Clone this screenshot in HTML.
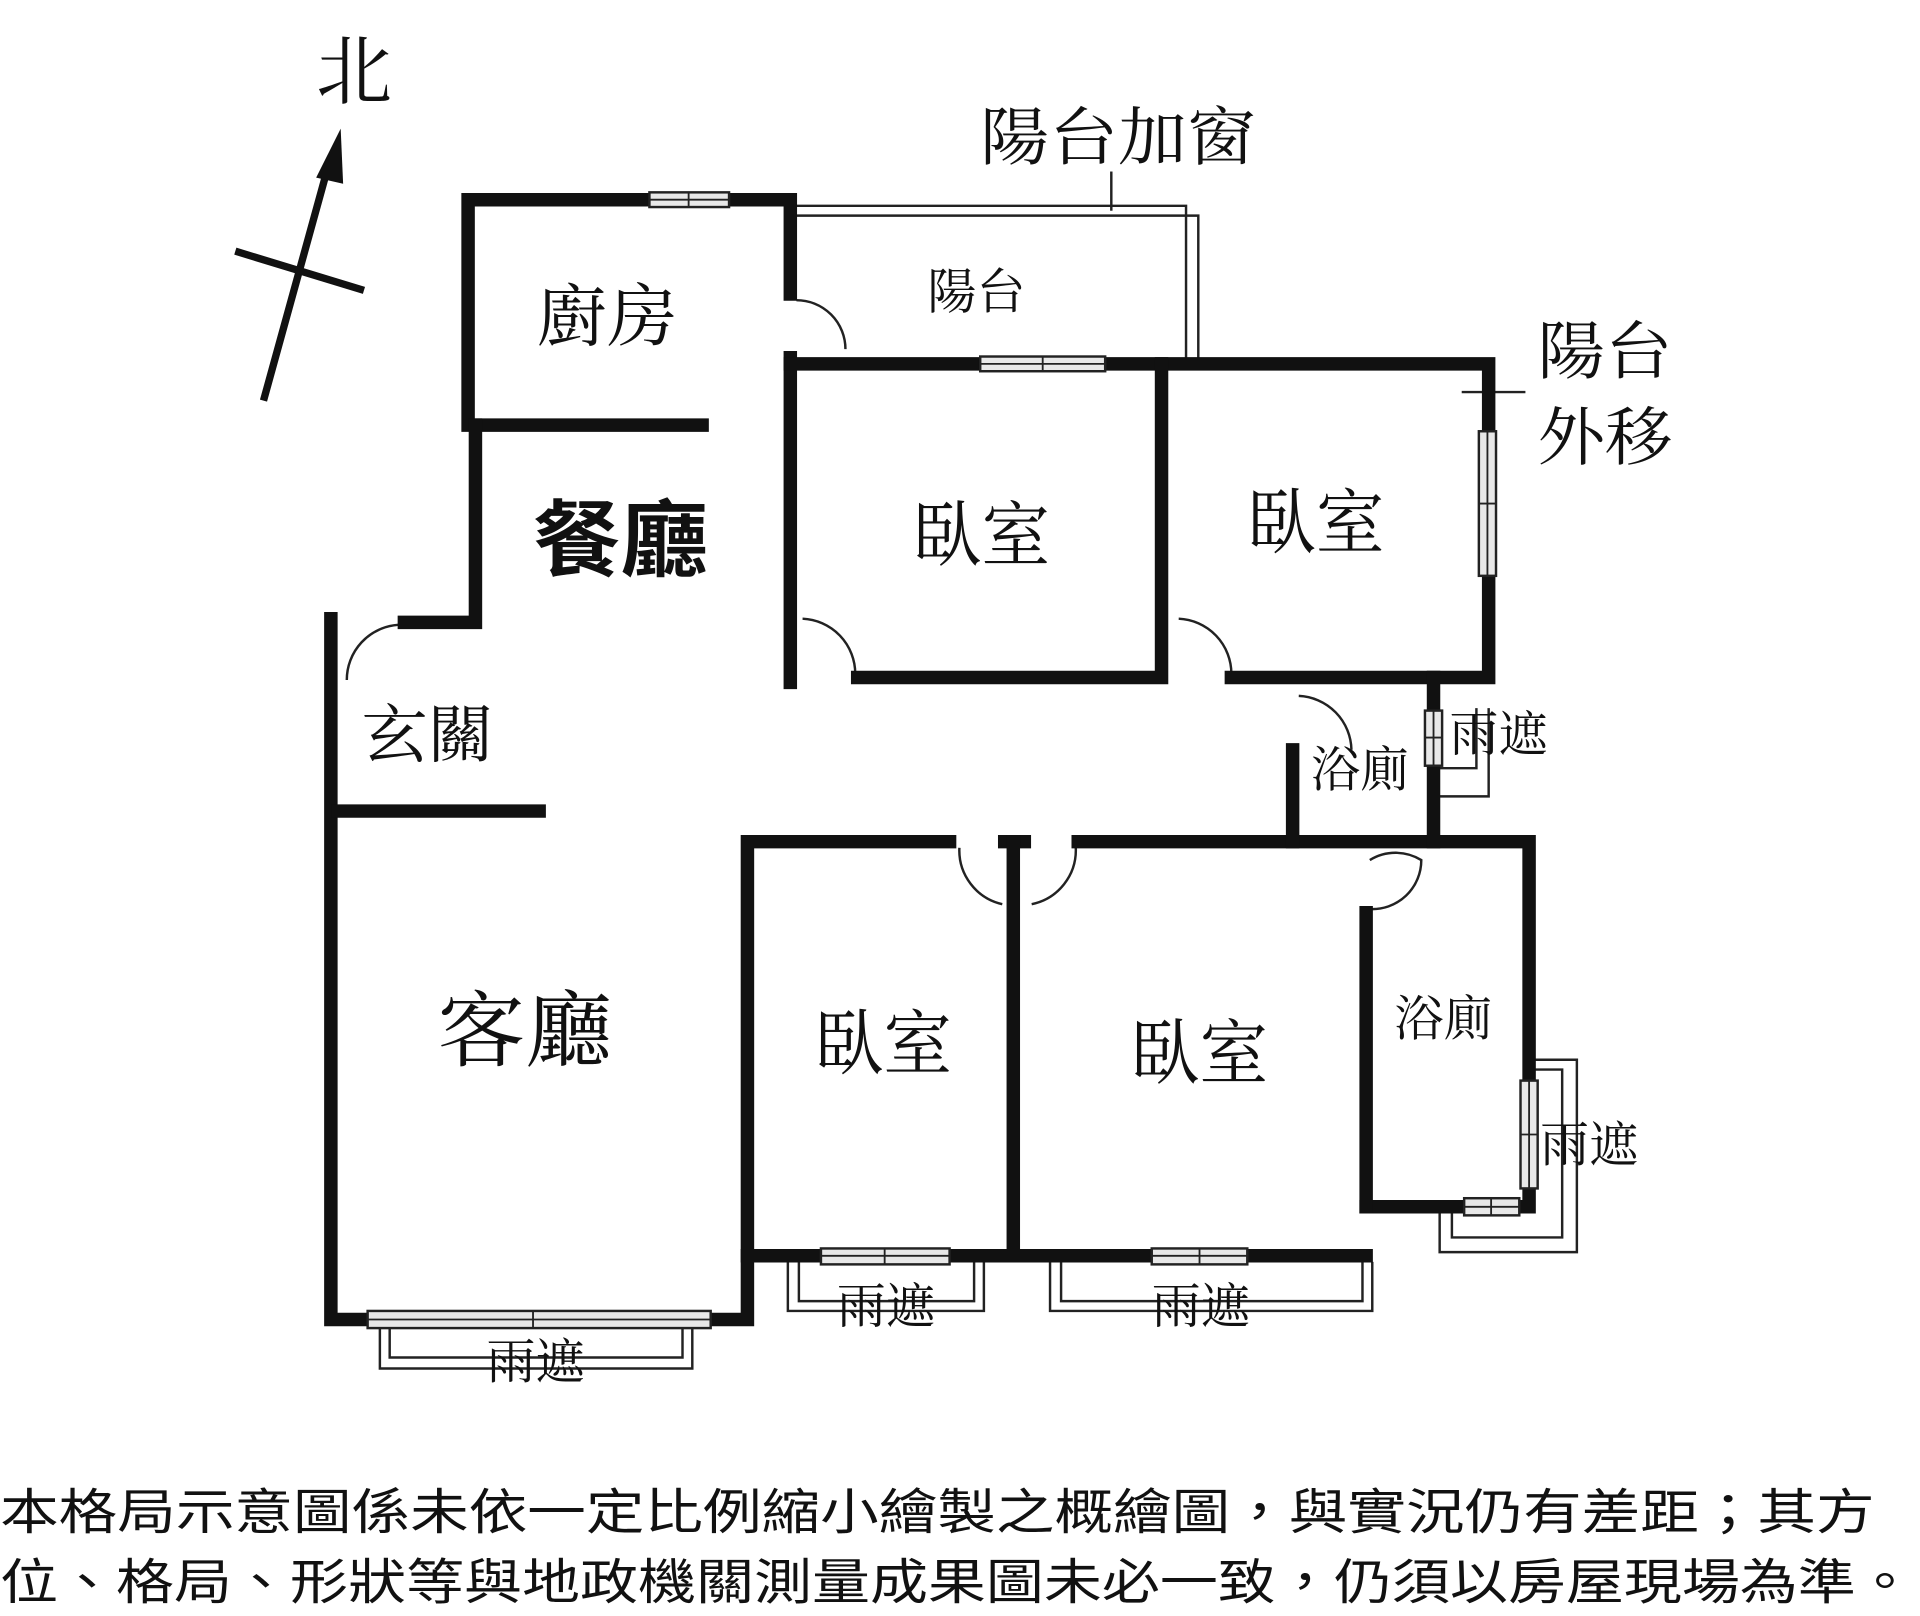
<!DOCTYPE html>
<html><head><meta charset="utf-8"><style>
html,body{margin:0;padding:0;background:#fff;}
svg{display:block}
text{font-family:"Liberation Sans","Noto Sans CJK TC",sans-serif;fill:#111}
.m{font-family:"Liberation Serif","Noto Serif CJK SC",serif}
</style></head><body>
<svg width="1920" height="1616" viewBox="0 0 1567 1319" xmlns="http://www.w3.org/2000/svg">
<rect width="1567" height="1319" fill="#fff"/>
<line x1="215" y1="327" x2="268" y2="135" stroke="#111" stroke-width="6"/>
<polygon points="278,105 258,145 280,150" fill="#111"/>
<line x1="192" y1="205" x2="297" y2="237" stroke="#111" stroke-width="6"/>
<text class="m" x="258" y="80" font-size="62">北</text>

<g fill="none" stroke="#222" stroke-width="2">
<polyline points="645,168 968,168 968,297"/>
<polyline points="645,176 978,176 978,297"/>
<line x1="907" y1="140" x2="907" y2="172"/>
<line x1="1193" y1="320" x2="1245" y2="320"/>
<polyline points="1168,627 1205,627 1205,578"/>
<polyline points="1175,650 1215,650 1215,578"/>
<polyline points="1250,873 1275,873 1275,1010 1185,1010 1185,985"/>
<polyline points="1250,865 1287,865 1287,1022 1175,1022 1175,985"/>
<polyline points="310,1080 310,1117 565,1117 565,1080"/>
<polyline points="318,1080 318,1108 557,1108 557,1080"/>
<polyline points="643,1030 643,1070 803,1070 803,1030"/>
<polyline points="652,1030 652,1062 795,1062 795,1030"/>
<polyline points="857,1030 857,1070 1120,1070 1120,1030"/>
<polyline points="866,1030 866,1062 1112,1062 1112,1030"/>
<path d="M650,245 A40,40 0 0 1 690,285"/>
<path d="M283,555 A45,45 0 0 1 325,510"/>
<path d="M655,505 A45,45 0 0 1 698,550"/>
<path d="M962,505 A45,45 0 0 1 1005,550"/>
<path d="M1060,568 A45,45 0 0 1 1103,612"/>
<path d="M783,692 A45,45 0 0 0 818,738"/>
<path d="M878,692 A45,45 0 0 1 842,738"/>
<path d="M1118,702 A40,40 0 0 1 1160,702 A40,40 0 0 1 1118,742"/>
</g>

<g fill="none" stroke="#111" stroke-width="11" stroke-linecap="square">
<polyline points="645,240 645,163 382,163 382,347 573,347"/>
<polyline points="645,292 645,557"/>
<polyline points="645,297 1215,297 1215,553 1005,553"/>
<polyline points="948,297 948,553 700,553"/>
<polyline points="388,347 388,508 330,508"/>
<polyline points="270,505 270,1077 610,1077 610,687 775,687"/>
<line x1="276" y1="662" x2="440" y2="662"/>
<line x1="820" y1="687" x2="836" y2="687"/>
<polyline points="880,687 1248,687 1248,985 1115,985"/>
<line x1="1115" y1="745" x2="1115" y2="985"/>
<line x1="827" y1="687" x2="827" y2="1025"/>
<line x1="610" y1="1025" x2="1115" y2="1025"/>
<line x1="1055" y1="612" x2="1055" y2="687"/>
<line x1="1170" y1="553" x2="1170" y2="687"/>
</g>

<g fill="#e8e8e8" stroke="#222" stroke-width="2">
<rect x="530" y="157" width="65" height="12"/>
<rect x="800" y="291" width="102" height="12"/>
<rect x="1207" y="352" width="14" height="118"/>
<rect x="1163" y="580" width="14" height="45"/>
<rect x="1241" y="882" width="14" height="88"/>
<rect x="1195" y="978" width="45" height="14"/>
<rect x="300" y="1070" width="280" height="14"/>
<rect x="670" y="1019" width="105" height="13"/>
<rect x="940" y="1019" width="78" height="13"/>
</g>
<g stroke="#222" stroke-width="1.5">
<line x1="530" y1="163" x2="595" y2="163"/><line x1="562" y1="157" x2="562" y2="169"/>
<line x1="800" y1="297" x2="902" y2="297"/><line x1="851" y1="291" x2="851" y2="303"/>
<line x1="1214" y1="352" x2="1214" y2="470"/><line x1="1207" y1="411" x2="1221" y2="411"/>
<line x1="1170" y1="580" x2="1170" y2="625"/><line x1="1163" y1="602" x2="1177" y2="602"/>
<line x1="1248" y1="882" x2="1248" y2="970"/><line x1="1241" y1="926" x2="1255" y2="926"/>
<line x1="1195" y1="985" x2="1240" y2="985"/><line x1="1217" y1="978" x2="1217" y2="992"/>
<line x1="300" y1="1077" x2="580" y2="1077"/><line x1="435" y1="1070" x2="435" y2="1084"/>
<line x1="670" y1="1025" x2="775" y2="1025"/><line x1="722" y1="1019" x2="722" y2="1032"/>
<line x1="940" y1="1025" x2="1018" y2="1025"/><line x1="979" y1="1019" x2="979" y2="1032"/>
</g>

<g class="m">
<text class="m" x="800" y="130" font-size="52" textLength="225" lengthAdjust="spacingAndGlyphs">陽台加窗</text>
<text class="m" x="1255" y="305" font-size="52" textLength="110" lengthAdjust="spacingAndGlyphs">陽台</text>
<text class="m" x="1255" y="375" font-size="52" textLength="110" lengthAdjust="spacingAndGlyphs">外移</text>
<text class="m" x="438" y="278" font-size="56" textLength="115" lengthAdjust="spacingAndGlyphs">廚房</text>
<text class="m" x="757" y="252" font-size="40">陽台</text>
<text x="435" y="465" font-size="68" font-weight="bold" textLength="143" lengthAdjust="spacingAndGlyphs">餐廳</text>
<text class="m" x="745" y="457" font-size="58" textLength="112" lengthAdjust="spacingAndGlyphs">臥室</text>
<text class="m" x="1018" y="447" font-size="58" textLength="112" lengthAdjust="spacingAndGlyphs">臥室</text>
<text class="m" x="295" y="618" font-size="52" textLength="108" lengthAdjust="spacingAndGlyphs">玄關</text>
<text class="m" x="1070" y="642" font-size="40">浴廁</text>
<text class="m" x="1183" y="613" font-size="40">雨遮</text>
<text class="m" x="357" y="865" font-size="68" textLength="143" lengthAdjust="spacingAndGlyphs">客廳</text>
<text class="m" x="665" y="872" font-size="58" textLength="112" lengthAdjust="spacingAndGlyphs">臥室</text>
<text class="m" x="923" y="880" font-size="58" textLength="112" lengthAdjust="spacingAndGlyphs">臥室</text>
<text class="m" x="1138" y="845" font-size="40">浴廁</text>
<text class="m" x="1257" y="948" font-size="40">雨遮</text>
<text class="m" x="397" y="1125" font-size="40">雨遮</text>
<text class="m" x="683" y="1080" font-size="40">雨遮</text>
<text class="m" x="940" y="1080" font-size="40">雨遮</text>
</g>

<text x="0" y="1248" font-size="40" textLength="1530" lengthAdjust="spacingAndGlyphs">本格局示意圖係未依一定比例縮小繪製之概繪圖，與實況仍有差距；其方</text>
<text x="0" y="1305" font-size="40" textLength="1562" lengthAdjust="spacingAndGlyphs">位、格局、形狀等與地政機關測量成果圖未必一致，仍須以房屋現場為準。</text>
</svg>
</body></html>
